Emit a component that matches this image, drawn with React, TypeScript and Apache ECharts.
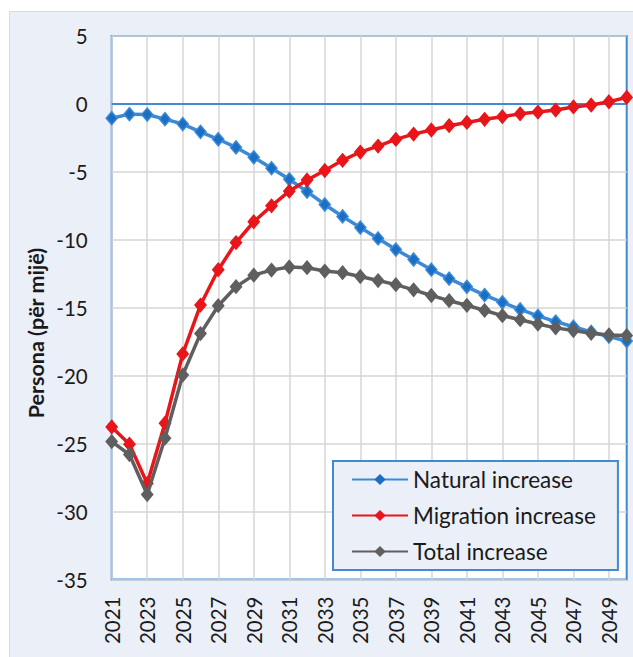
import React, { useEffect, useRef } from "react";
import * as echarts from "echarts";

const years: string[] = [
  "2021","2022","2023","2024","2025","2026","2027","2028","2029","2030",
  "2031","2032","2033","2034","2035","2036","2037","2038","2039","2040",
  "2041","2042","2043","2044","2045","2046","2047","2048","2049","2050",
];

const naturalIncrease: number[] = [
  -1.05, -0.75, -0.78, -1.12, -1.48, -2.05, -2.6, -3.2, -3.93, -4.73,
  -5.55, -6.45, -7.4, -8.28, -9.1, -9.9, -10.72, -11.45, -12.2, -12.86,
  -13.46, -14.07, -14.6, -15.12, -15.6, -16.02, -16.4, -16.78, -17.12, -17.45,
];

const migrationIncrease: number[] = [
  -23.77, -25.04, -27.94, -23.5, -18.4, -14.8, -12.2, -10.2, -8.67, -7.5,
  -6.42, -5.6, -4.9, -4.15, -3.54, -3.1, -2.61, -2.22, -1.92, -1.6,
  -1.36, -1.13, -0.94, -0.73, -0.6, -0.45, -0.22, -0.08, 0.16, 0.48,
];

const totalIncrease: number[] = [
  -24.85, -25.8, -28.75, -24.6, -19.95, -16.9, -14.85, -13.45, -12.6, -12.23,
  -12.0, -12.05, -12.3, -12.42, -12.7, -13.0, -13.3, -13.68, -14.1, -14.48,
  -14.82, -15.2, -15.58, -15.88, -16.2, -16.48, -16.68, -16.88, -17.0, -17.05,
];

const seriesNames: string[] = ["Natural increase", "Migration increase", "Total increase"];
const yAxisTitle = "Persona (për mijë)";

const FONT = "Lato, 'Open Sans', sans-serif";
const BORDER_BLUE = "#4189d2";

export default function App() {
  const ref = useRef<HTMLDivElement>(null);

  useEffect(() => {
    if (!ref.current) return;
    const chart = echarts.init(ref.current, undefined, { renderer: "svg" });
    const mk = (name: string, data: number[], line: string, marker: string, z: number) => ({
      name,
      type: "line",
      data,
      clip: false,
      z,
      symbol: "diamond",
      symbolSize: [11, 13],
      showAllSymbol: true,
      lineStyle: { color: line, width: 3.5 },
      itemStyle: { color: marker, borderColor: line, borderWidth: 1.5 },
      emphasis: { disabled: true },
    });
    const s1: any = mk(seriesNames[0], naturalIncrease, "#3c8ad6", "#1a6ec3", 3);
    s1.markLine = {
      silent: true,
      symbol: "none",
      label: { show: false },
      lineStyle: { color: BORDER_BLUE, width: 2, type: "solid" },
      data: [{ yAxis: 0 }],
      z: 1,
    };
    chart.setOption({
      animation: false,
      backgroundColor: "transparent",
      graphic: [
        {
          type: "rect",
          z: -10,
          shape: { x: 9.5, y: 11.5, width: 640, height: 660 },
          style: { fill: "#ebeff8", stroke: "#d9dce3", lineWidth: 1 },
          silent: true,
        },
        {
          type: "text",
          x: 36,
          y: 333,
          rotation: Math.PI / 2,
          style: {
            text: yAxisTitle,
            fill: "#1a1a1a",
            font: `bold 21.5px ${FONT}`,
            textAlign: "center",
            textVerticalAlign: "middle",
          },
        },
      ],
      grid: {
        left: 111.7,
        top: 36,
        width: 515,
        height: 543.5,
        show: true,
        backgroundColor: "#ffffff",
        borderColor: BORDER_BLUE,
        borderWidth: 2,
        containLabel: false,
      },
      legend: {
        orient: "vertical",
        left: 333,
        top: 461,
        backgroundColor: "#ebeff8",
        borderColor: BORDER_BLUE,
        borderWidth: 2,
        padding: [7, 22, 7, 18],
        itemGap: 13,
        itemWidth: 56,
        itemHeight: 14,
        itemStyle: { borderWidth: 0 },
        textStyle: { fontFamily: FONT, fontSize: 22.5, color: "#1a1a1a", padding: [0, 0, 0, 0] },
        data: seriesNames,
        selectedMode: false,
      },
      xAxis: {
        type: "category",
        data: years,
        boundaryGap: false,
        axisLine: { show: false, onZero: false },
        axisTick: { show: false },
        axisLabel: {
          interval: 1,
          rotate: 90,
          margin: 17,
          fontFamily: FONT,
          fontSize: 20.5,
          color: "#1a1a1a",
        },
        splitLine: { show: true, interval: 1, lineStyle: { color: "#d6d6d6", width: 1.5 } },
      },
      yAxis: {
        type: "value",
        min: -35,
        max: 5,
        interval: 5,
        axisLine: { show: false },
        axisTick: { show: false },
        axisLabel: { margin: 24, fontFamily: FONT, fontSize: 20.5, color: "#1a1a1a" },
        splitLine: { show: true, lineStyle: { color: "#d6d6d6", width: 1.5 } },
      },
      series: [
        s1,
        mk(seriesNames[1], migrationIncrease, "#e8161b", "#e8161b", 4),
        mk(seriesNames[2], totalIncrease, "#5f5f5f", "#5f5f5f", 5),
      ],
    });
    return () => chart.dispose();
  }, []);

  return (
    <div
      ref={ref}
      style={{ position: "absolute", left: 0, top: 0, width: 633, height: 657, background: "#ffffff" }}
    />
  );
}
